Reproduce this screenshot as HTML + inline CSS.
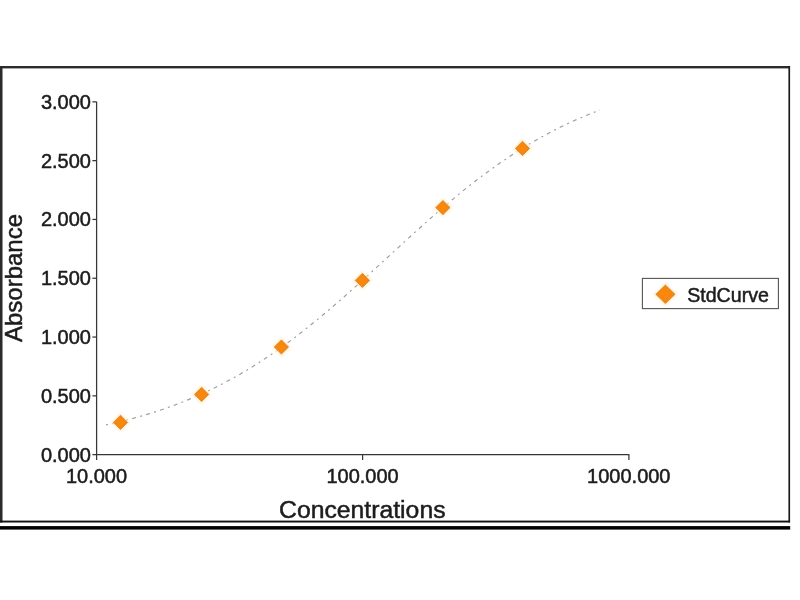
<!DOCTYPE html>
<html lang="en"><head><meta charset="utf-8"><title>StdCurve</title>
<style>
html,body{margin:0;padding:0;background:#fff;width:800px;height:600px;overflow:hidden}
svg{display:block;position:absolute;left:0;top:0}
text{font-family:"Liberation Sans",Arial,sans-serif;fill:#1c1c1c;stroke:#1c1c1c;stroke-width:0.5px}
</style></head><body>
<svg width="800" height="600" viewBox="0 0 800 600">
<defs><radialGradient id="og" cx="50%" cy="50%" r="55%"><stop offset="0" stop-color="#ff8805"/><stop offset="0.7" stop-color="#f5860f"/><stop offset="1" stop-color="#e5851f"/></radialGradient>
<filter id="bl" x="-50%" y="-50%" width="200%" height="200%"><feGaussianBlur stdDeviation="1.3"/></filter><filter id="b2" x="-20%" y="-20%" width="140%" height="140%"><feGaussianBlur stdDeviation="0.45"/></filter></defs>
<rect x="0" y="0" width="800" height="600" fill="#fff"/>

<rect x="0" y="66" width="790" height="2.4" fill="#2b2b2b"/>
<rect x="0" y="66" width="2.5" height="456.5" fill="#2b2b2b"/>
<rect x="788.4" y="66" width="1.7" height="456.5" fill="#1c1c1c"/>
<rect x="0" y="520.6" width="790" height="1.9" fill="#111"/>
<rect x="0" y="526.1" width="790.2" height="3.5" fill="#000"/>
<g stroke="#363636" stroke-width="1.25" fill="none">
<path d="M96.6,101.85 V460"/>
<path d="M92.4,454.65 H629.4"/>
<path d="M92.4,395.85 H96.6"/>
<path d="M92.4,337.05 H96.6"/>
<path d="M92.4,278.25 H96.6"/>
<path d="M92.4,219.45 H96.6"/>
<path d="M92.4,160.65 H96.6"/>
<path d="M92.4,101.85 H96.6"/>
<path d="M362.6,454.65 V460"/><path d="M628.9,454.65 V460"/>
</g>
<text x="91" y="461.5" font-size="20" text-anchor="end">0.000</text>
<text x="91" y="402.8" font-size="20" text-anchor="end">0.500</text>
<text x="91" y="343.9" font-size="20" text-anchor="end">1.000</text>
<text x="91" y="285.1" font-size="20" text-anchor="end">1.500</text>
<text x="91" y="226.3" font-size="20" text-anchor="end">2.000</text>
<text x="91" y="167.6" font-size="20" text-anchor="end">2.500</text>
<text x="91" y="108.8" font-size="20" text-anchor="end">3.000</text>
<text x="96.5" y="483.2" font-size="20" text-anchor="middle">10.000</text>
<text x="362.6" y="483.2" font-size="20" text-anchor="middle">100.000</text>
<text x="628.8" y="483.2" font-size="20" text-anchor="middle">1000.000</text>
<text x="362.3" y="518" font-size="24.75" text-anchor="middle">Concentrations</text>
<text transform="translate(22.2,278) rotate(-90)" font-size="24" text-anchor="middle">Absorbance</text>
<path d="M106.0,424.9 L114.4,423.1 L122.7,421.1 L131.1,418.9 L139.5,416.6 L147.9,414.1 L156.2,411.5 L164.6,408.7 L173.0,405.7 L181.4,402.5 L189.7,399.1 L198.1,395.5 L206.5,391.7 L214.8,387.7 L223.2,383.4 L231.6,378.9 L240.0,374.2 L248.3,369.3 L256.7,364.1 L265.1,358.6 L273.5,352.9 L281.8,347.0 L290.2,340.9 L298.6,334.6 L306.9,328.0 L315.3,321.3 L323.7,314.3 L332.1,307.2 L340.4,300.0 L348.8,292.6 L357.2,285.1 L365.6,277.5 L373.9,269.9 L382.3,262.2 L390.7,254.5 L399.1,246.8 L407.4,239.1 L415.8,231.5 L424.2,224.0 L432.5,216.6 L440.9,209.3 L449.3,202.2 L457.7,195.2 L466.0,188.4 L474.4,181.8 L482.8,175.5 L491.2,169.3 L499.5,163.3 L507.9,157.6 L516.3,152.1 L524.6,146.9 L533.0,141.9 L541.4,137.1 L549.8,132.6 L558.1,128.2 L566.5,124.2 L574.9,120.3 L583.3,116.7 L591.6,113.2 L600.0,110.0" fill="none" stroke="#9c9c9c" stroke-width="1.15" stroke-dasharray="4,4.3,1.9,4.3" stroke-dashoffset="2"/>
<path d="M110.8,422.4 L120.5,412.7 L130.2,422.4 L120.5,432.1Z" fill="#ffedcc" opacity="0.9" filter="url(#bl)"/><path d="M113.4,422.4 L120.5,415.3 L127.6,422.4 L120.5,429.5Z" fill="url(#og)" stroke="#cf8830" stroke-width="0.8" filter="url(#b2)"/>
<path d="M191.9,394.4 L201.6,384.7 L211.3,394.4 L201.6,404.1Z" fill="#ffedcc" opacity="0.9" filter="url(#bl)"/><path d="M194.5,394.4 L201.6,387.3 L208.7,394.4 L201.6,401.5Z" fill="url(#og)" stroke="#cf8830" stroke-width="0.8" filter="url(#b2)"/>
<path d="M271.7,347 L281.4,337.3 L291.1,347 L281.4,356.7Z" fill="#ffedcc" opacity="0.9" filter="url(#bl)"/><path d="M274.3,347 L281.4,339.9 L288.5,347 L281.4,354.1Z" fill="url(#og)" stroke="#cf8830" stroke-width="0.8" filter="url(#b2)"/>
<path d="M352.7,280.4 L362.4,270.7 L372.1,280.4 L362.4,290.1Z" fill="#ffedcc" opacity="0.9" filter="url(#bl)"/><path d="M355.3,280.4 L362.4,273.3 L369.5,280.4 L362.4,287.5Z" fill="url(#og)" stroke="#cf8830" stroke-width="0.8" filter="url(#b2)"/>
<path d="M433.2,207.6 L442.9,197.9 L452.6,207.6 L442.9,217.3Z" fill="#ffedcc" opacity="0.9" filter="url(#bl)"/><path d="M435.8,207.6 L442.9,200.5 L450.0,207.6 L442.9,214.7Z" fill="url(#og)" stroke="#cf8830" stroke-width="0.8" filter="url(#b2)"/>
<path d="M512.8,148.4 L522.5,138.7 L532.2,148.4 L522.5,158.1Z" fill="#ffedcc" opacity="0.9" filter="url(#bl)"/><path d="M515.4,148.4 L522.5,141.3 L529.6,148.4 L522.5,155.5Z" fill="url(#og)" stroke="#cf8830" stroke-width="0.8" filter="url(#b2)"/>
<rect x="642.4" y="278.4" width="136" height="30.2" fill="#fff" stroke="#555" stroke-width="1.1"/>
<path d="M653.2,294.3 L665.4,282.4 L677.6,294.3 L665.4,306.2Z" fill="#ffedcc" opacity="0.9" filter="url(#bl)"/><path d="M655.8,294.3 L665.4,285.0 L675.0,294.3 L665.4,303.6Z" fill="url(#og)" stroke="#cf8830" stroke-width="0.8" filter="url(#b2)"/>
<text x="687.2" y="301.8" font-size="19.6">StdCurve</text>
</svg></body></html>
